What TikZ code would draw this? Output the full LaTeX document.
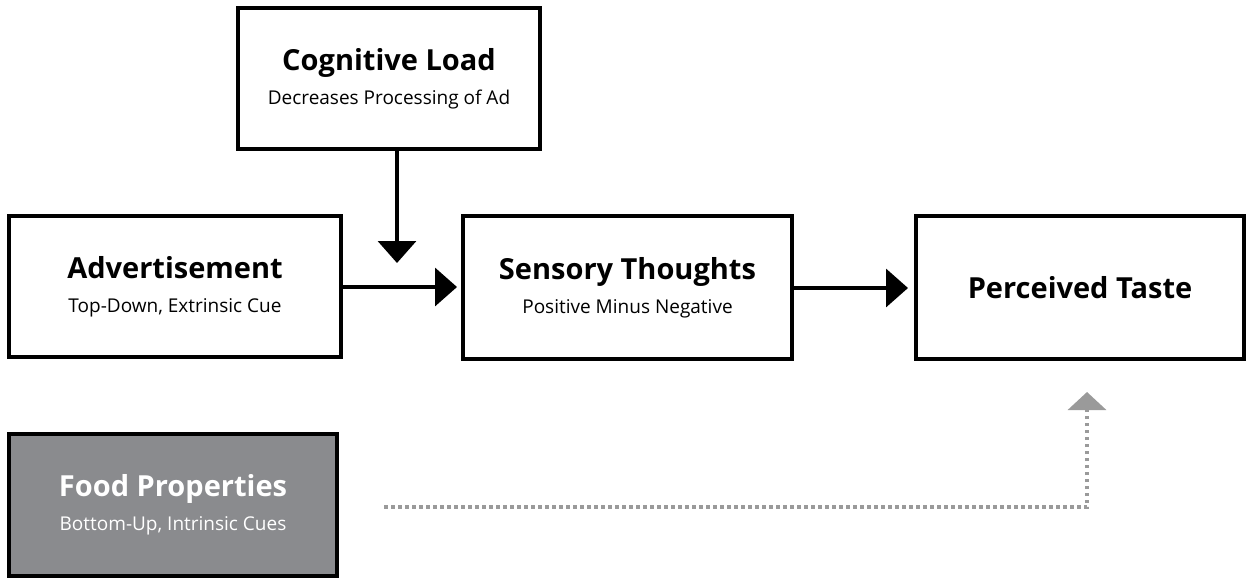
\documentclass[tikz,border=0pt]{standalone}
\usepackage{fontspec}
\setmainfont{Open Sans}
\usetikzlibrary{arrows.meta}
\definecolor{foodgray}{HTML}{8A8B8E}
\definecolor{dotgray}{HTML}{9A9A9A}
\tikzset{
  box/.style={draw=black, line width=3.5pt, fill=white, inner sep=0pt, align=center,
    font=\fontsize{29}{34}\selectfont},
  arr/.style={line width=3.5pt, -{Triangle[length=22pt,width=38pt]}},
  dotarr/.style={dotgray, line width=3.5pt, dash pattern=on 3.5pt off 3.5pt, -{Triangle[length=18pt,width=38pt]}}
}
\newcommand{\ttlt}[1]{{\bfseries #1}}
\newcommand{\subt}[1]{{\fontsize{19}{24}\selectfont #1}}
\begin{document}
\begin{tikzpicture}[x=1pt,y=-1pt]
\useasboundingbox (0,0) rectangle (1252,579);
\node[box, minimum width=302pt, minimum height=141pt] (cog) at (389,78.5)
  {\ttlt{Cognitive Load}\\\subt{Decreases Processing of Ad}};
\node[box, minimum width=332pt, minimum height=141pt] (ad) at (175,286.5)
  {\ttlt{Advertisement}\\\subt{Top-Down, Extrinsic Cue}};
\node[box, minimum width=329pt, minimum height=143pt] (sens) at (627.5,287.5)
  {\ttlt{Sensory Thoughts}\\\subt{Positive Minus Negative}};
\node[box, minimum width=328pt, minimum height=143pt] (taste) at (1080,287.5)
  {\ttlt{Perceived Taste}};
\node[box, fill=foodgray, text=white, minimum width=328pt, minimum height=142pt] (food) at (173,505)
  {\ttlt{Food Properties}\\\subt{Bottom-Up, Intrinsic Cues}};
\coordinate (cogtip) at (397,263);
\coordinate (adtip) at (457,287);
\coordinate (senstip) at (908,288);
\coordinate (corner) at (1087,507);
\coordinate (tastetip) at (1087,392);
\draw[arr] (cog.south -| cogtip) -- (cogtip);
\draw[arr] (ad.east |- adtip) -- (adtip);
\draw[arr] (sens.east |- senstip) -- (senstip);
\draw[dotarr] (384,507) -- (corner) -- (tastetip);
\end{tikzpicture}
\end{document}
